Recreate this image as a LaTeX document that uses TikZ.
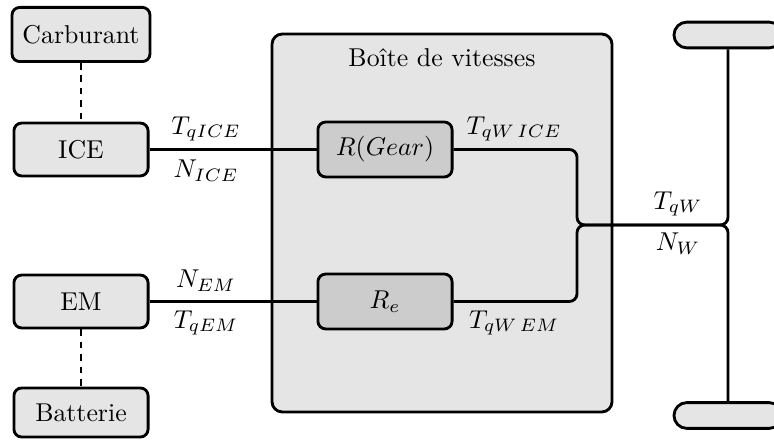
\documentclass[tikz,border=0pt]{standalone}
\usetikzlibrary{positioning}
\begin{document}
\begin{tikzpicture}[x=0.3876pt,y=-0.3876pt,line width=1.1pt,
  src/.style={draw,fill=black!10,rounded corners=3pt,minimum width=52pt,minimum height=20.5pt,inner sep=0pt},
  inner/.style={draw,fill=black!20,rounded corners=3pt,minimum width=52pt,minimum height=21.3pt,inner sep=0pt},
  wheel/.style={draw,fill=black!10,rounded corners=5pt,minimum width=41.9pt,minimum height=10pt,inner sep=0pt},
  lbl/.style={inner sep=0pt},
  link/.style={rounded corners=3pt}]
\useasboundingbox (0,0) rectangle (774,441);
\node[draw,fill=black!10,rounded corners=4pt,minimum width=131.8pt,minimum height=146.5pt,inner sep=0pt] (box) at (442,223) {};
\node[lbl] (boxlbl) at (442,58) {Boîte de vitesses};
\node[src,minimum width=53.5pt,minimum height=21pt] (carb) at (81,34.5) {Carburant};
\node[src] (ice) at (81,149.5) {ICE};
\node[src] (em) at (81,301.5) {EM};
\node[src,minimum height=19pt] (bat) at (81,412.5) {Batterie};
\node[inner] (rg) at (385,149.5) {$R(Gear)$};
\node[inner] (re) at (385,301.5) {$R_e$};
\node[wheel] (w1) at (728,35) {};
\node[wheel] (w2) at (728,415.5) {};
\coordinate (j1) at (577,225);
\coordinate (j2) at (728,225);
\draw[dash pattern=on 2.6pt off 2.2pt] (carb.south) -- (ice.north);
\draw[dash pattern=on 2.6pt off 2.2pt] (em.south) -- (bat.north);
\draw (ice.east) -- (rg.west);
\draw (em.east) -- (re.west);
\draw[link] (rg.east) -| (j1) -- (j2) -- (w1.south);
\draw[link] (re.east) -| (j1) -- (j2) -- (w2.north);
\node[lbl] (l1) at (206,129) {$T_{qICE}$};
\node[lbl] (l2) at (206,171) {$N_{ICE}$};
\node[lbl] (l3) at (206,281) {$N_{EM}$};
\node[lbl] (l4) at (206,323) {$T_{qEM}$};
\node[lbl] (l5) at (514,129) {$T_{qW\,ICE}$};
\node[lbl] (l6) at (514,323) {$T_{qW\,EM}$};
\node[lbl] (l7) at (678,204) {$T_{qW}$};
\node[lbl] (l8) at (678,244) {$N_{W}$};
\end{tikzpicture}
\end{document}
